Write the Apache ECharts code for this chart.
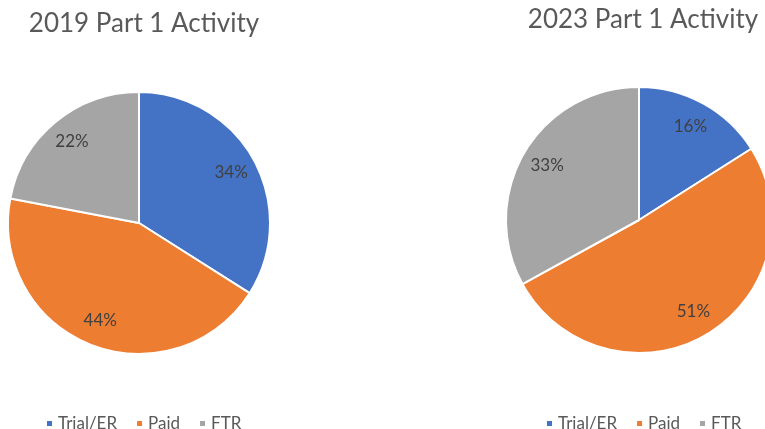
<!DOCTYPE html>
<html>
<head>
<meta charset="utf-8">
<script src="https://cdn.jsdelivr.net/npm/echarts@6/dist/echarts.min.js"></script>
<style>
  html, body { margin: 0; padding: 0; background: #fff; }
  #chart { width: 765px; height: 429px; }
</style>
</head>
<body>
<div id="chart"></div>
<script>
// categories and values (percent)
const categories = ['Trial/ER', 'Paid', 'FTR']
const values2019 = [34, 44, 22]
const values2023 = [16, 51, 33]
const colors = ['#4472C4', '#ED7D31', '#A5A5A5']

const chart = echarts.init(document.getElementById('chart'))
const fontFamily = 'Lato, "Open Sans", sans-serif'

function toData(values) {
  return categories.map((name, i) => ({ name: name, value: values[i] }))
}

function pieSeries(values, center, radius) {
  return [{
    type: 'pie',
    center: center,
    radius: radius,
    silent: true,
    data: toData(values),
    label: { show: false },
    labelLine: { show: false },
    itemStyle: { borderColor: '#fff', borderWidth: 2 }
  }, {
    // transparent ring only used to place labels further out
    type: 'pie',
    center: center,
    radius: [radius * 0.56, radius],
    silent: true,
    data: toData(values),
    itemStyle: { color: 'rgba(0,0,0,0)' },
    label: {
      show: true,
      position: 'inside',
      formatter: '{c}%',
      color: '#404040',
      fontSize: 17,
      fontFamily: fontFamily
    },
    labelLine: { show: false }
  }]
}

function legend(left) {
  return {
    data: categories,
    left: left,
    top: 410,
    icon: 'rect',
    itemWidth: 7,
    itemHeight: 7,
    itemGap: 18,
    textStyle: { color: '#595959', fontSize: 17, fontFamily: fontFamily }
  }
}

chart.setOption({
  color: colors,
  animation: false,
  title: [{
    text: '2019 Part 1 Activity',
    left: 139,
    top: 6,
    textAlign: 'center',
    textStyle: { color: '#595959', fontSize: 26, fontWeight: 'normal', fontFamily: fontFamily }
  }, {
    text: '2023 Part 1 Activity',
    left: 638,
    top: 2,
    textAlign: 'center',
    textStyle: { color: '#595959', fontSize: 26, fontWeight: 'normal', fontFamily: fontFamily }
  }],
  legend: [legend(40), legend(540)],
  series: [
    ...pieSeries(values2019, [139, 223], 131),
    ...pieSeries(values2023, [639, 220], 133)
  ]
})
</script>
</body>
</html>
